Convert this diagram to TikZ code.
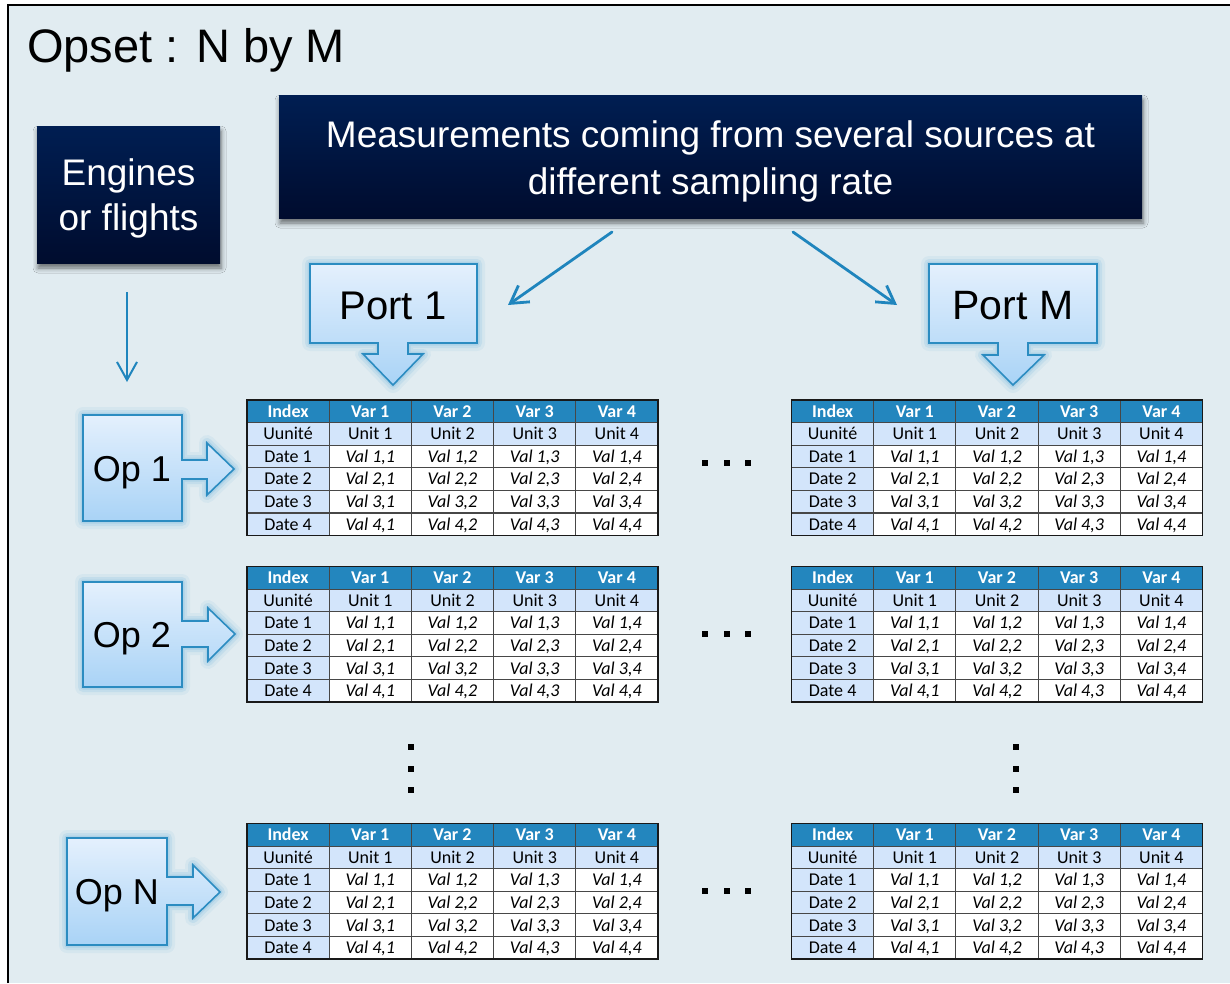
\documentclass[tikz,border=0pt]{standalone}
\usepackage{fontspec}
\setmainfont{Liberation Sans}
\newfontfamily\calib{Carlito}
\usetikzlibrary{arrows.meta,shadows.blur,calc}
\definecolor{bg}{HTML}{E1ECF1}
\definecolor{navyT}{HTML}{001E52}
\definecolor{navyB}{HTML}{000C2E}
\definecolor{arrc}{HTML}{1F85BD}
\definecolor{hdr}{HTML}{2386BE}
\definecolor{lcell}{HTML}{D3E5FB}
\definecolor{cBorder}{HTML}{2B8CC1}
\definecolor{cTop}{HTML}{E4F0FD}
\definecolor{cBot}{HTML}{A9D3F6}
\definecolor{glowc}{HTML}{7FBCE0}
\tikzset{
  navybox/.style={draw=none, top color=navyT, bottom color=navyB, text=white, align=center,
    blur shadow={shadow xshift=1pt,shadow yshift=-5pt,shadow blur radius=5pt,shadow opacity=55}},
  calloutshape/.style={draw=cBorder, line width=1.6pt, line join=miter, top color=cTop, bottom color=cBot},
  glowA/.style={draw=glowc, line width=16pt, opacity=0.12, line join=round},
  glowB/.style={draw=glowc, line width=10pt, opacity=0.20, line join=round},
  glowC/.style={draw=glowc, line width=5pt, opacity=0.32, line join=round},
  bigtext/.style={inner sep=0pt, text height=29pt, text depth=0pt, font=\fontsize{40}{44}\selectfont},
  conn/.style={draw=arrc, line width=2.8pt, line cap=round, -{Straight Barb[length=17pt,width=20pt,line width=2.8pt]}},
  connv/.style={draw=arrc, line width=2pt, -{Straight Barb[length=18pt,width=20pt,line width=2pt]}},
  gridl/.style={draw=black!72, line width=1.1pt},
  outerl/.style={draw=black!90, line width=1.4pt},
  hd/.style={inner sep=0pt, text height=11.6pt, text depth=0pt, text=white, font=\calib\bfseries\fontsize{18}{20}\selectfont},
  cl/.style={inner sep=0pt, text height=11.6pt, text depth=0pt, text=black, font=\calib\fontsize{18}{20}\selectfont},
  cli/.style={inner sep=0pt, text height=11.6pt, text depth=0pt, text=black, font=\calib\itshape\fontsize{18}{20}\selectfont},
  dotsq/.style={fill=black}
}
\newcommand{\dtable}[3]{%
\begin{scope}[shift={(#2,#3)}]
  \fill[hdr] (0,0) rectangle (411,22.6);
  \fill[lcell] (0,22.6) rectangle (411,45.2);
  \fill[lcell] (0,45.2) rectangle (82.2,135.6);
  \fill[white] (82.2,45.2) rectangle (411,135.6);
  \foreach \i in {1,...,5} \draw[gridl] (0,\i*22.6) -- (411,\i*22.6);
  \foreach \j in {1,...,4} \draw[gridl] (\j*82.2,0) -- (\j*82.2,135.6);
  \draw[outerl] (0,0) rectangle (411,135.6);
  \node[hd] (#1-0-0) at (41.1,11.3) {Index};
  \foreach \j in {1,...,4} \node[hd] (#1-0-\j) at ({(\j+0.5)*82.2},11.3) {Var \j};
  \node[cl] (#1-1-0) at (41.1,33.9) {Uunité};
  \foreach \j in {1,...,4} \node[cl] (#1-1-\j) at ({(\j+0.5)*82.2},33.9) {Unit \j};
  \foreach \i in {1,...,4} {
    \node[cl] (#1-d\i-0) at (41.1,{(\i+1.5)*22.6}) {Date \i};
    \foreach \j in {1,...,4} \node[cli] (#1-d\i-\j) at ({(\j+0.5)*82.2},{(\i+1.5)*22.6}) {Val \i,\j};
  }
\end{scope}}
\newcommand{\hdots}[2]{%
  \foreach \dx in {0,21.5,43} \fill[dotsq] ({#1+\dx-3},{#2-3}) rectangle ++(6,6);}
\newcommand{\vdotsq}[2]{%
  \foreach \dy in {0,21.5,43} \fill[dotsq] ({#1-3},{#2+\dy-3}) rectangle ++(6,6);}
\def\pathPortA{(310,264) -- (477,264) -- (477,343) -- (408,343) -- (408,354) -- (423,354) -- (393,385) -- (363,354) -- (378,354) -- (378,343) -- (310,343) -- cycle}
\def\pathPortM{(929,264) -- (1097,264) -- (1097,343) -- (1028,343) -- (1028,355) -- (1044,355) -- (1013,385) -- (983,355) -- (998,355) -- (998,343) -- (929,343) -- cycle}
\def\pathOpA{(83,415) -- (182,415) -- (182,460) -- (207,460) -- (207,443) -- (234,469) -- (207,495) -- (207,479) -- (182,479) -- (182,521) -- (83,521) -- cycle}
\def\pathOpB{(83,582) -- (182,582) -- (182,621) -- (208,621) -- (208,608) -- (235,634) -- (208,661) -- (208,647) -- (182,647) -- (182,687) -- (83,687) -- cycle}
\def\pathOpN{(67,838) -- (167,838) -- (167,877) -- (193,877) -- (193,865) -- (220,892) -- (193,918) -- (193,905) -- (167,905) -- (167,945) -- (67,945) -- cycle}
\newcommand{\callout}[1]{%
  \draw[glowA] #1; \draw[glowB] #1; \draw[glowC] #1;
  \path[calloutshape] #1;}
\begin{document}
\begin{tikzpicture}[x=1pt,y=-1pt]
\useasboundingbox (0,0) rectangle (1230,983);
\fill[white] (0,0) rectangle (1230,983);
\fill[bg] (8,5) rectangle (1230,983);
\draw[black, line width=1.2pt] (8,983) -- (8,5) -- (1230,5);
% title
\node[anchor=west, inner sep=0pt, text height=33.6pt, text depth=0pt, font=\fontsize{47}{50}\selectfont] (title) at (27,45.5) {Opset : N by M};
% navy boxes
\node[navybox, minimum width=183pt, minimum height=137pt] (eng) at (128.5,194.5) {};
\node[align=center, text=white, inner sep=0pt, font=\fontsize{37}{45}\selectfont] (engtext) at (128.5,198.5) {Engines\\or flights};
\node[navybox, minimum width=863pt, minimum height=123pt] (meas) at (710.5,156.5) {};
\node[align=center, text=white, inner sep=0pt, font=\fontsize{37}{47}\selectfont] (meastext) at (710.5,161) {Measurements coming from several sources at\\different sampling rate};
% callouts
\callout{\pathPortA}
\callout{\pathPortM}
\callout{\pathOpA}
\callout{\pathOpB}
\callout{\pathOpN}
\node[bigtext] (port1) at (393,305) {Port 1};
\node[bigtext, font=\fontsize{41}{44}\selectfont] (portM) at (1013,305) {Port M};
\node[bigtext, text height=26pt, font=\fontsize{36}{40}\selectfont] (op1) at (132,468) {Op 1};
\node[bigtext, text height=26pt, font=\fontsize{36}{40}\selectfont] (op2) at (132,634) {Op 2};
\node[bigtext, text height=26pt, font=\fontsize{36}{40}\selectfont] (opN) at (117,891) {Op N};
% connectors
\coordinate (c1s) at (612,232);
\coordinate (c1e) at (508,305);
\coordinate (c2s) at (793,232);
\coordinate (c2e) at (897,305);
\coordinate (c3s) at (127,292);
\coordinate (c3e) at (127,382);
\draw[conn] (c1s) -- (c1e);
\draw[conn] (c2s) -- (c2e);
\draw[connv] (c3s) -- (c3e);
% tables
\dtable{ta}{247}{400}
\dtable{tb}{791.5}{400}
\dtable{tc}{247}{566.5}
\dtable{td}{791.5}{566.5}
\dtable{te}{247}{823.5}
\dtable{tf}{791.5}{823.5}
% dots
\hdots{705}{463}
\hdots{705}{634}
\hdots{705}{891}
\vdotsq{411}{747}
\vdotsq{1016}{747}
\end{tikzpicture}
\end{document}
